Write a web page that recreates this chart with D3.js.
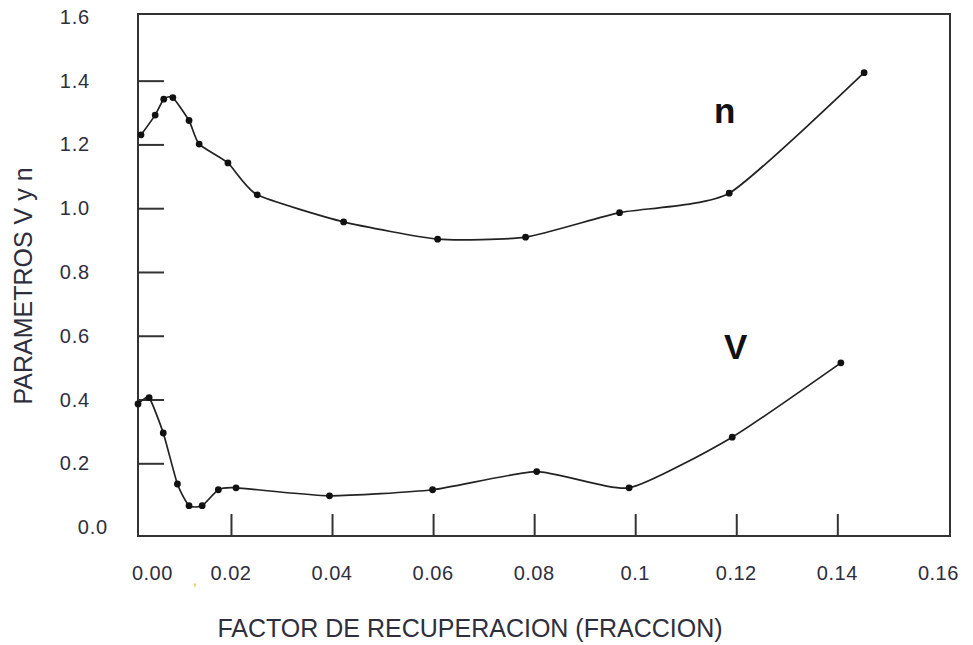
<!DOCTYPE html>
<html>
<head>
<meta charset="utf-8">
<script src="https://cdn.jsdelivr.net/npm/d3@7"></script>
<style>
  html, body { margin: 0; padding: 0; background: #fff; }
  svg { display: block; }
</style>
</head>
<body>
<svg id="chart" width="973" height="645"></svg>
<script>
// ---- data ----
const nX = [0.0022, 0.0050, 0.0067, 0.0085, 0.0117, 0.0137, 0.0194, 0.0252, 0.0423, 0.0609, 0.0783, 0.0969, 0.1186, 0.1453];
const nY = [1.230, 1.292, 1.342, 1.347, 1.275, 1.201, 1.142, 1.042, 0.957, 0.903, 0.909, 0.986, 1.047, 1.425];

const vX = [0.0016, 0.0038, 0.0066, 0.0094, 0.0117, 0.0143, 0.0175, 0.0210, 0.0395, 0.0599, 0.0805, 0.0988, 0.1192, 0.1407];
const vY = [0.386, 0.406, 0.295, 0.135, 0.067, 0.067, 0.117, 0.123, 0.098, 0.117, 0.174, 0.123, 0.282, 0.515];

const xTickValues = [0.02, 0.04, 0.06, 0.08, 0.10, 0.12, 0.14];
const xLabelValues = [0, 0.02, 0.04, 0.06, 0.08, 0.10, 0.12, 0.14, 0.16];
const xLabelText = ["0.00", "0.02", "0.04", "0.06", "0.08", "0.1", "0.12", "0.14", "0.16"];

const yTickValues = [0.2, 0.4, 0.6, 0.8, 1.0, 1.2, 1.4];
const yLabelValues = [0, 0.2, 0.4, 0.6, 0.8, 1.0, 1.2, 1.4, 1.6];
const yLabelText = ["0.0", "0.2", "0.4", "0.6", "0.8", "1.0", "1.2", "1.4", "1.6"];

const seriesNames = ["n", "V"];
const xTitle = "FACTOR DE RECUPERACION (FRACCION)";
const yTitle = "PARAMETROS V y n";

// ---- layout ----
const pLeft = 138, pRight = 950, pTop = 14, pBottom = 536;
const svg = d3.select("#chart");
const textColor = "#2e2e3c";
const font = "'Liberation Sans', Arial, sans-serif";

const x = d3.scaleLinear().domain([0.0016, 0.1623]).range([pLeft, pRight]);
const y = d3.scaleLinear().domain([-0.028, 1.609]).range([pBottom, pTop]);

// frame
svg.append("rect")
  .attr("x", pLeft).attr("y", pTop)
  .attr("width", pRight - pLeft).attr("height", pBottom - pTop)
  .attr("fill", "none").attr("stroke", "#333").attr("stroke-width", 2);

// inner ticks
const yAxis = svg.append("g")
  .attr("transform", `translate(${pLeft},0)`)
  .call(d3.axisRight(y).tickValues(yTickValues).tickSize(26).tickFormat(""));
yAxis.select(".domain").remove();
yAxis.selectAll("line").attr("stroke", "#333").attr("stroke-width", 2);

const xAxis = svg.append("g")
  .attr("transform", `translate(0,${pBottom})`)
  .call(d3.axisTop(x).tickValues(xTickValues).tickSize(22).tickFormat(""));
xAxis.select(".domain").remove();
xAxis.selectAll("line").attr("stroke", "#333").attr("stroke-width", 2);

// tick labels
svg.append("g").selectAll("text")
  .data(yLabelValues)
  .join("text")
  .attr("x", d => d === 0 ? 108 : 90)
  .attr("y", d => y(d) + 7)
  .attr("text-anchor", "end")
  .attr("font-family", font)
  .attr("font-size", 20)
  .attr("letter-spacing", 0.8)
  .attr("fill", textColor)
  .text((d, i) => yLabelText[i]);

svg.append("g").selectAll("text")
  .data(xLabelValues)
  .join("text")
  .attr("x", d => d === 0 ? x(d) + 2 : x(d))
  .attr("y", 580)
  .attr("text-anchor", d => d === 0 ? "start" : "middle")
  .attr("font-family", font)
  .attr("font-size", 20)
  .attr("letter-spacing", 0.5)
  .attr("fill", textColor)
  .text((d, i) => xLabelText[i]);

// small orange mark near 0.02
svg.append("text")
  .attr("x", 193).attr("y", 585)
  .attr("font-family", font).attr("font-size", 14)
  .attr("fill", "#f0a050")
  .text(",");

// axis titles
svg.append("text")
  .attr("x", 470).attr("y", 637)
  .attr("text-anchor", "middle")
  .attr("font-family", font).attr("font-size", 25)
  .attr("fill", textColor)
  .text(xTitle);

svg.append("text")
  .attr("transform", "translate(32,286) rotate(-90)")
  .attr("text-anchor", "middle")
  .attr("font-family", font).attr("font-size", 25)
  .attr("fill", textColor)
  .text(yTitle);

// series
const line = d3.line()
  .x(d => x(d[0])).y(d => y(d[1]))
  .curve(d3.curveCardinal.tension(0.45));

const nData = nX.map((v, i) => [v, nY[i]]);
const vData = vX.map((v, i) => [v, vY[i]]);

[nData, vData].forEach(data => {
  svg.append("path")
    .datum(data)
    .attr("d", line)
    .attr("fill", "none")
    .attr("stroke", "#222")
    .attr("stroke-width", 1.7);
  svg.append("g").selectAll("circle")
    .data(data)
    .join("circle")
    .attr("cx", d => x(d[0]))
    .attr("cy", d => y(d[1]))
    .attr("r", 3.4)
    .attr("fill", "#111");
});

// series labels
svg.append("text")
  .attr("x", 714).attr("y", 123)
  .attr("font-family", font).attr("font-size", 35).attr("font-weight", "bold")
  .attr("fill", "#111")
  .text(seriesNames[0]);

svg.append("text")
  .attr("x", 724).attr("y", 359)
  .attr("font-family", font).attr("font-size", 35).attr("font-weight", "bold")
  .attr("fill", "#111")
  .text(seriesNames[1]);
</script>
</body>
</html>
